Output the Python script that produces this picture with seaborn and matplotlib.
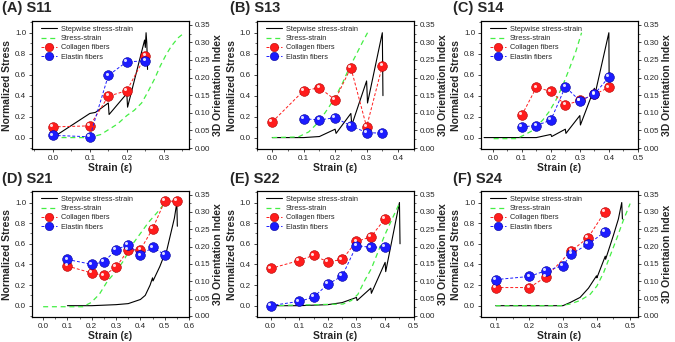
import matplotlib
matplotlib.use("Agg")
import matplotlib.pyplot as plt
import seaborn as sns
from matplotlib.lines import Line2D
from matplotlib.ticker import MultipleLocator, FormatStrFormatter
from matplotlib.transforms import ScaledTranslation

# ---- S11 ----
s11_step_x = [0.0, 0.1, 0.115, 0.15, 0.152, 0.2, 0.202, 0.248, 0.25, 0.252, 0.254, 0.256]
s11_step_y = [0.0, 0.23, 0.24, 0.33, 0.22, 0.42, 0.29, 0.93, 0.86, 1.0, 0.9, 0.65]
s11_ss_x = [0.0, 0.1, 0.13, 0.175, 0.2, 0.22, 0.24, 0.256, 0.275, 0.29, 0.306, 0.32, 0.338, 0.352]
s11_ss_y = [0.0, 0.0, 0.03, 0.13, 0.21, 0.26, 0.33, 0.43, 0.56, 0.68, 0.79, 0.87, 0.95, 0.99]
s11_col_x = [0.0, 0.1, 0.15, 0.2, 0.25]
s11_col_y = [0.060, 0.063, 0.147, 0.163, 0.261]
s11_ela_x = [0.0, 0.1, 0.15, 0.2, 0.25]
s11_ela_y = [0.036, 0.032, 0.206, 0.245, 0.247]

# ---- S13 ----
s13_step_x = [0.0, 0.1, 0.15, 0.2, 0.203, 0.25, 0.253, 0.3, 0.303, 0.35, 0.352]
s13_step_y = [0.0, 0.0, 0.01, 0.08, 0.04, 0.23, 0.12, 0.54, 0.33, 1.0, 0.4]
s13_ss_x = [0.0, 0.083, 0.116, 0.148, 0.18, 0.201, 0.222, 0.244, 0.265, 0.287, 0.303]
s13_ss_y = [0.0, 0.006, 0.054, 0.15, 0.29, 0.39, 0.51, 0.66, 0.78, 0.91, 1.0]
s13_col_x = [0.0, 0.1, 0.15, 0.2, 0.25, 0.3, 0.35]
s13_col_y = [0.074, 0.163, 0.171, 0.137, 0.228, 0.060, 0.233]
s13_ela_x = [0.1, 0.15, 0.2, 0.25, 0.3, 0.35]
s13_ela_y = [0.083, 0.080, 0.086, 0.063, 0.044, 0.042]

# ---- S14 ----
s14_step_x = [-0.03, 0.15, 0.2, 0.203, 0.25, 0.252, 0.3, 0.302, 0.35, 0.352, 0.4, 0.401]
s14_step_y = [0.0, 0.0, 0.03, 0.01, 0.08, 0.04, 0.21, 0.12, 0.47, 0.41, 1.0, 0.55]
s14_ss_x = [0.003, 0.082, 0.105, 0.139, 0.173, 0.195, 0.218, 0.24, 0.263, 0.286, 0.306]
s14_ss_y = [-0.01, -0.01, 0.02, 0.07, 0.17, 0.25, 0.36, 0.49, 0.65, 0.82, 1.0]
s14_col_x = [0.1, 0.15, 0.2, 0.25, 0.3, 0.35, 0.4]
s14_col_y = [0.093, 0.172, 0.161, 0.122, 0.135, 0.152, 0.172]
s14_ela_x = [0.1, 0.15, 0.2, 0.25, 0.3, 0.35, 0.4]
s14_ela_y = [0.060, 0.064, 0.079, 0.174, 0.134, 0.153, 0.201]

# ---- S21 ----
s21_step_x = [0.1, 0.2, 0.3, 0.35, 0.4, 0.42, 0.44, 0.45, 0.452, 0.48, 0.5, 0.502, 0.52, 0.54, 0.55, 0.552]
s21_step_y = [0.0, 0.0, 0.01, 0.02, 0.06, 0.1, 0.2, 0.27, 0.24, 0.38, 0.5, 0.47, 0.65, 0.85, 1.0, 0.77]
s21_ss_x = [0.0, 0.163, 0.197, 0.231, 0.265, 0.299, 0.332, 0.366, 0.4, 0.434, 0.468, 0.502]
s21_ss_y = [-0.01, -0.01, 0.03, 0.11, 0.24, 0.33, 0.44, 0.59, 0.70, 0.81, 0.90, 1.0]
s21_col_x = [0.1, 0.2, 0.25, 0.3, 0.35, 0.4, 0.45, 0.5, 0.55]
s21_col_y = [0.144, 0.124, 0.117, 0.141, 0.190, 0.191, 0.251, 0.331, 0.331]
s21_ela_x = [0.1, 0.2, 0.25, 0.3, 0.35, 0.4, 0.45, 0.5]
s21_ela_y = [0.163, 0.149, 0.156, 0.191, 0.206, 0.175, 0.198, 0.177]

# ---- S22 ----
s22_step_x = [0.0, 0.1, 0.2, 0.25, 0.3, 0.302, 0.35, 0.352, 0.4, 0.402, 0.45, 0.452]
s22_step_y = [0.0, 0.0, 0.01, 0.03, 0.08, 0.05, 0.17, 0.12, 0.42, 0.33, 1.0, 0.6]
s22_ss_x = [0.0, 0.253, 0.282, 0.305, 0.328, 0.352, 0.375, 0.398, 0.421, 0.451]
s22_ss_y = [0.0, 0.016, 0.05, 0.11, 0.24, 0.36, 0.52, 0.68, 0.82, 1.0]
s22_col_x = [0.0, 0.1, 0.15, 0.2, 0.25, 0.3, 0.35, 0.4]
s22_col_y = [0.137, 0.160, 0.175, 0.156, 0.163, 0.215, 0.228, 0.281]
s22_ela_x = [0.0, 0.1, 0.15, 0.2, 0.25, 0.3, 0.35, 0.4]
s22_ela_y = [0.030, 0.042, 0.054, 0.092, 0.115, 0.203, 0.198, 0.199]

# ---- S24 ----
s24_step_x = [0.1, 0.3, 0.321, 0.351, 0.376, 0.4, 0.401, 0.426, 0.427, 0.45, 0.465, 0.475, 0.477]
s24_step_y = [0.0, 0.0, 0.03, 0.08, 0.17, 0.29, 0.27, 0.48, 0.45, 0.68, 0.84, 1.0, 0.84]
s24_ss_x = [0.1, 0.292, 0.321, 0.351, 0.381, 0.401, 0.421, 0.44, 0.46, 0.48, 0.5]
s24_ss_y = [0.0, 0.0, 0.016, 0.05, 0.11, 0.19, 0.32, 0.48, 0.65, 0.83, 0.99]
s24_col_x = [0.1, 0.2, 0.25, 0.325, 0.375, 0.425]
s24_col_y = [0.082, 0.082, 0.113, 0.188, 0.226, 0.301]
s24_ela_x = [0.1, 0.2, 0.25, 0.3, 0.325, 0.375, 0.425]
s24_ela_y = [0.105, 0.114, 0.131, 0.145, 0.179, 0.207, 0.243]

titles = ["(A) S11", "(B) S13", "(C) S14", "(D) S21", "(E) S22", "(F) S24"]
xlims = [(-0.057, 0.368), (-0.05, 0.45), (-0.042, 0.5), (-0.047, 0.6), (-0.049, 0.5), (0.055, 0.523)]
xticks = [[0.0, 0.1, 0.2, 0.3], [0.0, 0.1, 0.2, 0.3, 0.4], [0.0, 0.1, 0.2, 0.3, 0.4, 0.5],
          [0.0, 0.1, 0.2, 0.3, 0.4, 0.5, 0.6], [0.0, 0.1, 0.2, 0.3, 0.4, 0.5], [0.1, 0.2, 0.3, 0.4, 0.5]]
right_labels = ["3D Orientation Index"] * 5 + ["3D Orientaion Index"]

panels = [
    (s11_step_x, s11_step_y, s11_ss_x, s11_ss_y, s11_col_x, s11_col_y, s11_ela_x, s11_ela_y),
    (s13_step_x, s13_step_y, s13_ss_x, s13_ss_y, s13_col_x, s13_col_y, s13_ela_x, s13_ela_y),
    (s14_step_x, s14_step_y, s14_ss_x, s14_ss_y, s14_col_x, s14_col_y, s14_ela_x, s14_ela_y),
    (s21_step_x, s21_step_y, s21_ss_x, s21_ss_y, s21_col_x, s21_col_y, s21_ela_x, s21_ela_y),
    (s22_step_x, s22_step_y, s22_ss_x, s22_ss_y, s22_col_x, s22_col_y, s22_ela_x, s22_ela_y),
    (s24_step_x, s24_step_y, s24_ss_x, s24_ss_y, s24_col_x, s24_col_y, s24_ela_x, s24_ela_y),
]

sns.set_style("ticks")
plt.rcParams['font.family'] = ['Liberation Sans', 'DejaVu Sans']
plt.rcParams['axes.linewidth'] = 0.8

RED, RED_EDGE = "#ff1c1c", "#b00000"
BLUE, BLUE_EDGE = "#1c1cff", "#00009a"
GREEN = "#44ee44"

fig = plt.figure(figsize=(6.75, 3.42), dpi=100)

lefts = [0.047, 0.380, 0.712]
bottoms = [0.564, 0.073]
heights = [0.374, 0.368]
width = 0.233


def style_axis(a):
    a.tick_params(axis='both', which='major', direction='out', length=2.5, width=0.6,
                  labelsize=5.8, pad=1.5)
    a.tick_params(axis='both', which='minor', direction='out', length=1.5, width=0.5)


for i, (sx, sy, gx, gy, cx, cy, ex, ey) in enumerate(panels):
    row, col = divmod(i, 3)
    ax = fig.add_axes([lefts[col], bottoms[row], width, heights[row]])
    ax2 = ax.twinx()

    sns.lineplot(x=sx, y=sy, ax=ax, color="black", linewidth=0.8,
                 estimator=None, sort=False)
    sns.lineplot(x=gx, y=gy, ax=ax, color=GREEN, linewidth=0.9, linestyle=(0, (4, 3)),
                 estimator=None, sort=False)

    sns.lineplot(x=cx, y=cy, ax=ax2, color=RED, linewidth=0.7, linestyle=(0, (3, 2)),
                 marker="o", markersize=7, markerfacecolor=RED, markeredgecolor=RED_EDGE,
                 markeredgewidth=0.4, estimator=None, sort=False)
    sns.lineplot(x=ex, y=ey, ax=ax2, color=BLUE, linewidth=0.7, linestyle=(0, (3, 2)),
                 marker="o", markersize=7, markerfacecolor=BLUE, markeredgecolor=BLUE_EDGE,
                 markeredgewidth=0.4, estimator=None, sort=False)
    # glossy highlight on the spheres
    shift = ax2.transData + ScaledTranslation(-1.3 / 72, 1.3 / 72, fig.dpi_scale_trans)
    ax2.plot(cx, cy, "o", ms=2.2, color="white", alpha=0.85, mec="none", transform=shift)
    ax2.plot(ex, ey, "o", ms=2.2, color="white", alpha=0.85, mec="none", transform=shift)

    ax.set_xlim(*xlims[i])
    ax.set_xticks(xticks[i])
    ax.xaxis.set_major_formatter(FormatStrFormatter('%.1f'))
    ax.xaxis.set_minor_locator(MultipleLocator(0.05))
    ax.set_ylim(-0.11, 1.11)
    ax.set_yticks([0.0, 0.2, 0.4, 0.6, 0.8, 1.0])
    ax.yaxis.set_major_formatter(FormatStrFormatter('%.1f'))
    ax.yaxis.set_minor_locator(MultipleLocator(0.1))
    ax2.set_ylim(-0.003, 0.36)
    ax2.set_yticks([0.0, 0.05, 0.1, 0.15, 0.2, 0.25, 0.3, 0.35])
    ax2.yaxis.set_major_formatter(FormatStrFormatter('%.2f'))
    ax2.yaxis.set_minor_locator(MultipleLocator(0.025))
    style_axis(ax)
    style_axis(ax2)

    ax.set_xlabel("Strain (ε)", fontsize=7.5, fontweight="bold", labelpad=1)
    ax.set_ylabel("Normalized Stress", fontsize=7.5, fontweight="bold", labelpad=2)
    ax2.set_ylabel(right_labels[i], fontsize=7.5, fontweight="bold", labelpad=2)

    for sp in list(ax.spines.values()) + list(ax2.spines.values()):
        sp.set_visible(True)
        sp.set_color("black")
        sp.set_linewidth(0.8)

    handles = [
        Line2D([], [], color="black", lw=0.8),
        Line2D([], [], color=GREEN, lw=0.9, ls=(0, (4, 3))),
        Line2D([], [], color=RED, lw=0.7, ls=(0, (3, 2)), marker="o", ms=6,
               mfc=RED, mec=RED_EDGE, mew=0.4),
        Line2D([], [], color=BLUE, lw=0.7, ls=(0, (3, 2)), marker="o", ms=6,
               mfc=BLUE, mec=BLUE_EDGE, mew=0.4),
    ]
    labels = ["Stepwise stress-strain", "Stress-strain", "Collagen fibers", "Elastin fibers"]
    ax2.legend(handles, labels, loc="upper left", bbox_to_anchor=(0.03, 1.0),
               frameon=False, fontsize=5.3, handlelength=2.2, handletextpad=0.5,
               labelspacing=0.3, borderaxespad=0.2)

    tx = [0.003, 0.341, 0.671][col]
    ty = [0.978, 0.478][row]
    fig.text(tx, ty, titles[i], fontsize=10.5, fontweight="bold", va="center", ha="left")

fig.savefig("out.png", dpi=100)
